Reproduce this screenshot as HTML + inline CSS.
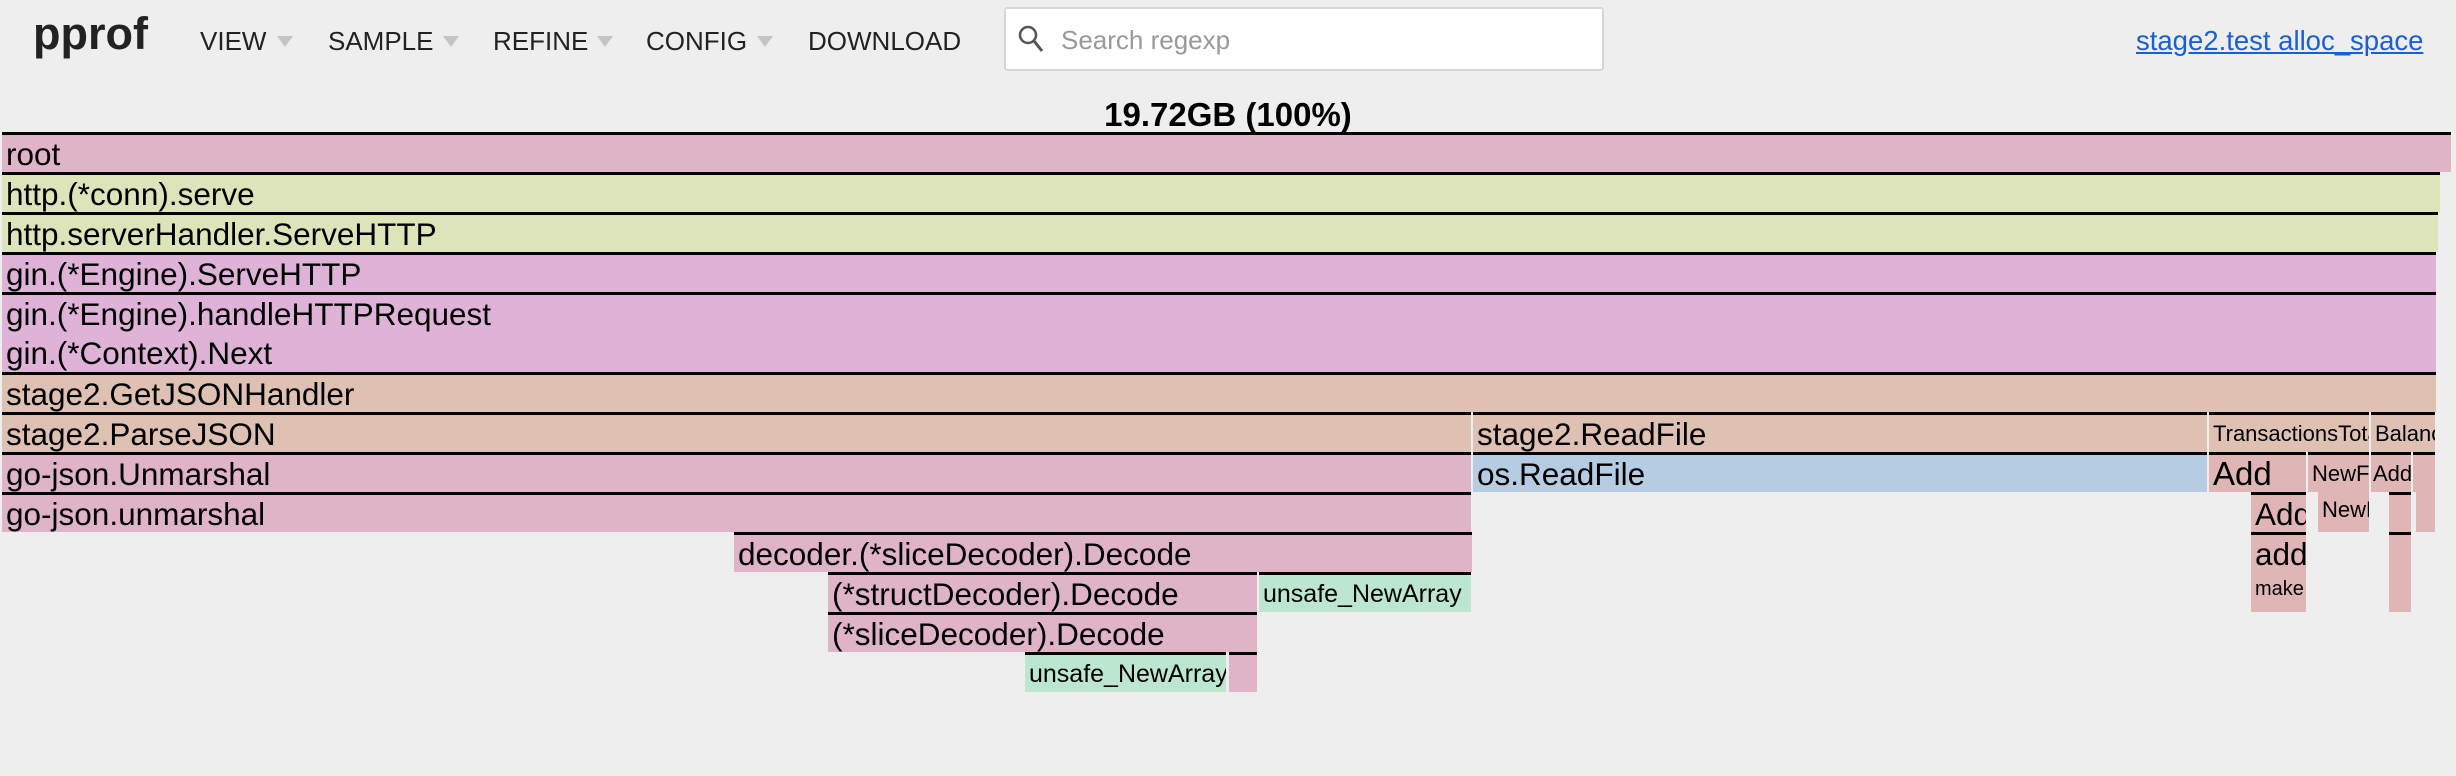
<!DOCTYPE html>
<html><head><meta charset="utf-8"><style>
body{margin:0;width:2456px;height:776px;background:#eeeeee;font-family:"Liberation Sans",sans-serif;position:relative;overflow:hidden}
.a{position:absolute;white-space:nowrap}
.f{position:absolute;box-sizing:border-box;height:40px;border-top:3px solid #000;overflow:hidden;white-space:nowrap;font-size:31.5px;line-height:38px;padding-left:4px;color:#000}
.nb{border-top:none;line-height:42px}
.pk{background:#dfb4c6}.gr{background:#dde4b9}.gn{background:#dfb3d8}.br{background:#dfc1b4}.bl{background:#b6cce3}.mt{background:#bde6d0}.rd{background:#dfb5b5}
.m{font-size:26px;color:#222;top:26px}
.t{position:absolute;top:36px;width:0;height:0;border-left:8px solid transparent;border-right:8px solid transparent;border-top:11px solid #c4c4c4}
</style></head><body>
<div class="a" style="left:33px;top:8px;font-size:45px;font-weight:bold;color:#222">pprof</div>
<div class="a m" style="left:200px">VIEW</div><div class="t" style="left:277px"></div>
<div class="a m" style="left:328px">SAMPLE</div><div class="t" style="left:443px"></div>
<div class="a m" style="left:493px">REFINE</div><div class="t" style="left:597px"></div>
<div class="a m" style="left:646px">CONFIG</div><div class="t" style="left:757px"></div>
<div class="a m" style="left:808px">DOWNLOAD</div>
<div class="a" style="left:1004px;top:7px;width:600px;height:64px;box-sizing:border-box;background:#fff;border:2px solid #d6d6d6;border-radius:3px"></div>
<svg class="a" style="left:1017px;top:24px" width="30" height="32"><circle cx="11" cy="11" r="8" fill="none" stroke="#555" stroke-width="2.5"/><line x1="17" y1="17" x2="25" y2="27" stroke="#555" stroke-width="3"/></svg>
<div class="a" style="left:1061px;top:25px;font-size:26px;color:#999">Search regexp</div>
<div class="a" style="left:2136px;top:25px;font-size:27.5px;color:#1a5fd6;text-decoration:underline">stage2.test alloc_space</div>
<div class="a" style="left:0;width:2456px;text-align:center;top:96px;font-size:33px;font-weight:bold">19.72GB (100%)</div>

<div class="f pk" style="left:2px;top:132px;width:2449px">root</div>
<div class="f gr" style="left:2px;top:172px;width:2438px">http.(*conn).serve</div>
<div class="f gr" style="left:2px;top:212px;width:2436px">http.serverHandler.ServeHTTP</div>
<div class="f gn" style="left:2px;top:252px;width:2434px">gin.(*Engine).ServeHTTP</div>
<div class="f gn" style="left:2px;top:292px;width:2434px;height:80px;line-height:39px">gin.(*Engine).handleHTTPRequest<br>gin.(*Context).Next</div>
<div class="f br" style="left:2px;top:372px;width:2434px">stage2.GetJSONHandler</div>

<div class="f br" style="left:2px;top:412px;width:1469px">stage2.ParseJSON</div>
<div class="f pk" style="left:2px;top:452px;width:1469px">go-json.Unmarshal</div>
<div class="f pk" style="left:2px;top:492px;width:1469px">go-json.unmarshal</div>
<div class="f pk" style="left:734px;top:532px;width:738px">decoder.(*sliceDecoder).Decode</div>
<div class="f pk" style="left:828px;top:572px;width:429px">(*structDecoder).Decode</div>
<div class="f mt" style="left:1259px;top:572px;width:212px;font-size:25px;border-top:3px solid #000">unsafe_NewArray</div>
<div class="f pk" style="left:828px;top:612px;width:429px">(*sliceDecoder).Decode</div>
<div class="f mt" style="left:1025px;top:652px;width:201px;font-size:25px">unsafe_NewArray</div>
<div class="f pk" style="left:1229px;top:652px;width:28px"></div>

<div class="f br" style="left:1473px;top:412px;width:734px">stage2.ReadFile</div>
<div class="f bl" style="left:1473px;top:452px;width:734px">os.ReadFile</div>
<div class="f br" style="left:2209px;top:412px;width:160px;font-size:22px">TransactionsTotal</div>
<div class="f br" style="left:2371px;top:412px;width:64px;font-size:22px">Balance</div>
<div class="f rd" style="left:2209px;top:452px;width:97px;font-size:33px">Add</div>
<div class="f rd" style="left:2308px;top:452px;width:61px;font-size:22px">NewFile</div>
<div class="f rd" style="left:2371px;top:452px;width:40px;font-size:22px;padding-left:2px">Add</div>
<div class="f rd" style="left:2413px;top:452px;width:22px"></div>
<div class="f rd" style="left:2251px;top:492px;width:55px">Add</div>
<div class="f rd nb" style="left:2318px;top:492px;width:51px;font-size:22px;line-height:36px">NewFile</div>
<div class="f rd" style="left:2389px;top:492px;width:22px"></div>
<div class="f rd nb" style="left:2416px;top:492px;width:19px"></div>
<div class="f rd" style="left:2251px;top:532px;width:55px">add</div>
<div class="f rd nb" style="left:2251px;top:572px;width:55px;font-size:20px;line-height:34px">make</div>
<div class="f rd" style="left:2389px;top:532px;width:22px;height:80px"></div>
</body></html>
